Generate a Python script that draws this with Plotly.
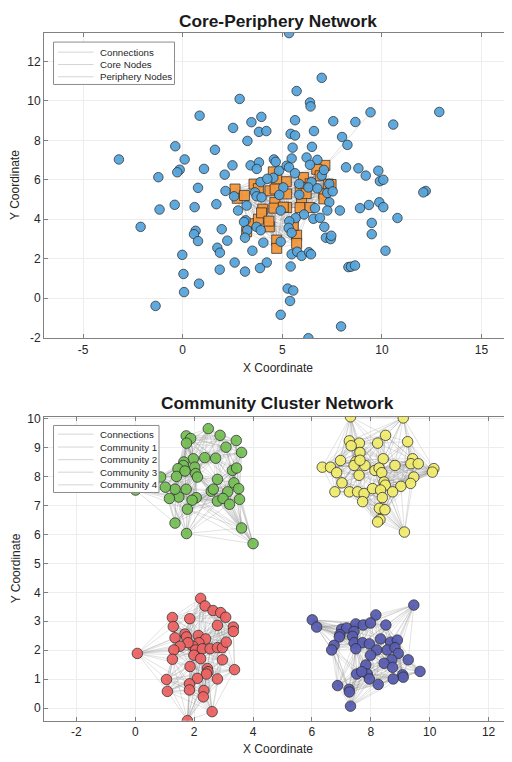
import math
import plotly.graph_objects as go

# ---------------- data ----------------
core_x = [7.14, 6.73, 6.06, 6.90, 7.31, 7.09, 7.09, 6.40, 5.90, 5.20, 4.55, 4.72, 3.58, 3.80, 4.38, 2.63, 2.74, 3.10, 5.22, 5.97,
          6.20, 4.02, 4.63, 5.22, 5.89, 6.39, 3.46, 4.35, 3.80, 3.21, 4.72, 4.72, 5.72, 5.72, 5.55, 4.58, 3.96, 4.33, 4.64, 5.05, 7.45]
core_y = [6.73, 6.53, 6.11, 6.20, 5.78, 5.28, 5.03, 5.80, 5.60, 5.90, 6.40, 6.03, 5.78, 5.55, 5.44, 5.53, 5.06, 5.20, 5.28, 4.94,
          5.30, 4.51, 4.84, 4.59, 4.59, 4.59, 3.77, 3.61, 4.00, 3.36, 2.94, 2.52, 3.19, 2.77, 3.69, 4.56, 4.32, 3.90, 5.53, 4.61, 5.76]

peri_x = [2.86, 0.85, 3.45, 3.95, 2.53, 3.83, 4.20, 3.25, -0.37, 1.62, -3.20, 0.10, 4.58, 4.67, 2.50, 3.41, 3.83, 3.72, 4.84, -0.15,
          -0.27, 1.07, 2.11, -1.22, 4.55, 3.91, 4.25, 0.77, 2.15, 5.34, 6.98, 5.72, 6.39, 6.42, 9.43, 12.88, 5.64, 7.56, 8.67, 10.57,
          5.42, 5.64, 6.59, 8.00, 8.27, 5.52, 6.49, 5.47, 6.22, 6.76, 5.22, 5.34, 6.39, 8.20, 8.82, 9.82, 9.19, 9.90, 10.07, 5.64,
          6.98, 7.09, 7.36, 5.85, 6.47, 12.20, 12.08, 2.58, -1.16, -0.40, 0.60, 1.69, 3.21, 2.78, -2.11, 0.65, 0.57, 0.77, 1.96, 2.24,
          3.16, 3.08, 3.24, 3.71, 3.92, 3.13, 4.05, 4.92, 4.92, -0.02, 1.74, 1.87, 3.50, 2.61, 4.22, 3.88, 1.86, 3.13, 0.04, 0.82,
          0.07, -1.36, 4.92, 5.05, 6.31, 6.76, 4.85, 5.85, 7.26, 7.53, 7.36, 6.09, 5.67, 6.64, 6.56, 6.89, 7.26, 7.89, 8.90, 9.35,
          9.87, 10.07, 10.78, 5.35, 5.32, 5.47, 7.11, 7.19, 7.43, 7.46, 9.49, 9.49, 10.18, 5.47, 5.75, 5.97, 6.34, 6.44, 5.42, 8.32,
          8.45, 8.65, 5.27, 5.55, 5.39, 7.95, 6.31, 3.63, 3.71, 3.96]
peri_y = [10.10, 9.25, 8.92, 9.19, 8.63, 8.43, 8.47, 7.97, 7.70, 7.52, 7.03, 7.03, 7.03, 6.91, 6.73, 6.73, 6.88, 6.55, 6.46, 6.51,
          6.38, 6.55, 6.26, 6.13, 6.10, 5.88, 6.05, 5.59, 5.43, 13.44, 11.17, 10.50, 9.92, 9.72, 9.42, 9.44, 9.02, 8.97, 8.93, 8.80,
          8.33, 8.25, 8.47, 8.17, 7.77, 7.63, 7.67, 7.08, 7.13, 7.01, 6.71, 6.63, 6.76, 6.63, 6.58, 6.46, 6.21, 5.93, 6.00, 6.33,
          6.21, 6.50, 5.79, 5.79, 5.88, 5.43, 5.36, 5.16, 4.49, 4.73, 4.61, 4.76, 4.69, 4.44, 3.61, 3.41, 3.24, 2.89, 3.49, 2.91,
          3.94, 3.86, 3.44, 3.61, 3.44, 3.06, 2.81, 4.44, 2.86, 2.19, 2.55, 2.30, 2.40, 1.80, 1.80, 1.52, 1.44, 1.34, 1.22, 0.73,
          0.30, -0.40, -0.85, 5.61, 5.61, 5.56, 5.23, 5.24, 5.33, 5.41, 4.86, 4.24, 4.06, 4.56, 4.02, 4.07, 4.44, 4.44, 4.56, 4.72,
          4.86, 4.61, 4.06, 3.89, 3.56, 3.31, 3.61, 3.06, 2.99, 3.16, 3.81, 3.24, 2.40, 2.22, 2.35, 2.14, 2.32, 2.22, 1.60, 1.57,
          1.59, 1.65, 0.48, 0.38, -0.15, -1.44, -2.04, 5.36, 5.16, 5.11]

# periphery -> core links (periphery index, core index)
peri_links = [(34, 0), (44, 0), (13, 10), (28, 15), (63, 4)]

c1_x = [2.48, 1.73, 1.88, 1.74, 2.88, 3.43, 3.08, 3.61, 2.36, 2.73, 1.97, 1.65, 1.63, 1.45, 2.02, 2.05, 2.11, 1.40, 0.86, 3.30,
        3.44, 2.79, 3.35, 3.51, 3.14, 3.54, 2.79, 2.98, 3.20, 2.58, 2.65, 2.07, 1.93, 1.48, 1.16, 1.35, 1.02, 1.73, 1.77, 1.35,
        1.74, 3.61, 4.00, 0.01, 1.69]
c1_y = [9.65, 9.40, 9.31, 9.15, 9.42, 9.24, 9.01, 8.83, 8.65, 8.63, 8.61, 8.50, 8.38, 8.27, 8.32, 8.10, 7.98, 8.00, 7.98, 8.21,
        8.29, 7.90, 7.78, 7.58, 7.47, 7.21, 7.15, 7.24, 7.04, 7.49, 7.56, 7.27, 7.18, 7.29, 7.24, 7.56, 7.63, 7.56, 6.87, 6.39,
        6.03, 6.22, 5.68, 7.53, 8.19]

c2_x = [7.31, 9.10, 8.50, 7.27, 7.61, 7.33, 8.23, 9.25, 7.63, 6.97, 7.49, 7.43, 7.80, 8.42, 8.82, 9.42, 9.36, 9.61, 6.35, 6.63,
        6.84, 7.60, 8.14, 8.28, 8.37, 8.45, 8.49, 9.46, 9.35, 9.02, 10.14, 10.09, 7.02, 6.78, 7.27, 7.55, 7.77, 8.06, 8.33, 8.74,
        7.72, 8.39, 8.29, 8.48, 8.31, 8.23, 9.14, 7.63]
c2_y = [10.06, 10.02, 9.42, 9.23, 9.15, 9.06, 9.15, 9.20, 8.83, 8.55, 8.51, 8.38, 8.38, 8.61, 8.38, 8.61, 8.44, 8.44, 8.32, 8.32,
        8.13, 8.04, 8.21, 8.29, 8.13, 7.81, 7.70, 7.98, 7.76, 7.66, 8.27, 8.15, 7.78, 7.47, 7.47, 7.47, 7.41, 7.58, 7.53, 7.47,
        7.13, 7.27, 6.90, 6.85, 6.51, 6.43, 6.08, 8.56]

c3_x = [2.22, 2.37, 2.64, 2.90, 3.07, 1.26, 1.85, 1.29, 2.79, 3.33, 3.33, 1.35, 1.69, 1.74, 2.14, 2.39, 2.16, 1.96, 1.79, 1.52,
        1.31, 2.05, 2.28, 2.54, 2.79, 2.96, 3.09, 1.99, 2.22, 1.26, 2.96, 0.07, 1.86, 2.45, 2.47, 2.42, 3.37, 2.11, 2.79, 1.06,
        1.84, 1.84, 1.09, 2.33, 2.31, 2.61, 1.77]
c3_y = [3.79, 3.53, 3.37, 3.30, 3.14, 3.13, 3.09, 2.82, 2.86, 2.80, 2.65, 2.43, 2.56, 2.46, 2.51, 2.39, 2.26, 2.14, 2.26, 2.14,
        2.01, 2.01, 2.05, 2.05, 2.09, 2.09, 2.28, 1.83, 1.71, 1.69, 1.67, 1.89, 1.44, 1.37, 1.26, 1.18, 1.33, 1.03, 1.01, 0.99,
        0.84, 0.63, 0.58, 0.61, 0.39, -0.12, -0.43]

c4_x = [9.46, 8.17, 6.01, 6.16, 7.01, 7.18, 7.49, 7.74, 7.99, 8.51, 7.43, 6.95, 6.93, 7.38, 7.43, 7.72, 7.95, 8.33, 8.67, 8.90,
        6.75, 6.67, 7.49, 8.20, 8.56, 8.82, 8.93, 7.99, 8.71, 9.27, 8.45, 8.74, 7.83, 7.52, 7.88, 7.95, 7.69, 9.67, 9.08, 9.10,
        8.76, 8.25, 6.87, 7.26, 7.27, 7.31]
c4_y = [3.56, 3.22, 3.05, 2.80, 2.73, 2.77, 2.91, 2.87, 2.94, 2.87, 2.65, 2.54, 2.46, 2.48, 2.26, 2.26, 2.22, 2.39, 2.28, 2.35,
        2.17, 2.01, 2.05, 2.01, 2.01, 2.09, 1.89, 1.83, 1.67, 1.67, 1.55, 1.41, 1.49, 1.18, 1.18, 1.01, 1.26, 1.27, 1.15, 1.07,
        1.01, 0.82, 0.78, 0.65, 0.56, 0.07]

top_xticks = [-5, 0, 5, 10, 15]
top_xtext = ["-5", "0", "5", "10", "15"]
top_yticks = [-2, 0, 2, 4, 6, 8, 10, 12]
top_ytext = ["-2", "0", "2", "4", "6", "8", "10", "12"]
bot_xticks = [-2, 0, 2, 4, 6, 8, 10, 12]
bot_xtext = ["-2", "0", "2", "4", "6", "8", "10", "12"]
bot_yticks = list(range(0, 11))
bot_ytext = [str(v) for v in bot_yticks]

top_legend = ["Connections", "Core Nodes", "Periphery Nodes"]
bot_legend = ["Connections", "Community 1", "Community 2", "Community 3", "Community 4"]

# ---------------- styles ----------------
W, H = 512, 762
OFF = 8  # page body margin of the written html
FONT = "Liberation Sans, Arial, Helvetica, sans-serif"
TXT = "#262626"
AXC = "#808080"
GRID = "#ededed"
EDGE = "rgba(130,130,130,0.34)"
BLUE = "rgb(86,165,220)"
ORANGE = "rgb(243,151,60)"
GREEN = "rgb(118,191,86)"
YELLOW = "rgb(241,236,110)"
RED = "rgb(236,99,99)"
PURPLE = "rgb(89,93,178)"
OUTLINE = "rgb(45,45,45)"

fig = go.Figure()


def px(x):
    return (x - OFF) / W


def py(y):
    return 1 - (y - OFF) / H


def knn_edges(xs, ys, k):
    n = len(xs)
    pairs = set()
    for i in range(n):
        d = sorted(((xs[j] - xs[i]) ** 2 + (ys[j] - ys[i]) ** 2, j) for j in range(n) if j != i)
        for _, j in d[:k]:
            pairs.add((min(i, j), max(i, j)))
    return sorted(pairs)


def add_edges(x1, y1, x2, y2, pairs, xa, ya):
    groups = {}
    for a, b in pairs:
        groups.setdefault(a, []).append(b)
    for a, bs in groups.items():
        ex, ey = [], []
        for b in bs:
            ex += [x1[a], x2[b], None]
            ey += [y1[a], y2[b], None]
        fig.add_trace(go.Scatter(x=ex, y=ey, mode="lines", xaxis=xa, yaxis=ya,
                                 line=dict(color=EDGE, width=0.7), hoverinfo="skip", showlegend=False))


# top: core-periphery
add_edges(core_x, core_y, core_x, core_y, knn_edges(core_x, core_y, 16), "x", "y")
add_edges(peri_x, peri_y, core_x, core_y, peri_links, "x", "y")
fig.add_trace(go.Scatter(x=core_x, y=core_y, mode="markers", xaxis="x", yaxis="y", name="Core Nodes",
                         marker=dict(symbol="square", size=10, color=ORANGE, opacity=0.95,
                                     line=dict(color=OUTLINE, width=0.8)), showlegend=False))
fig.add_trace(go.Scatter(x=peri_x, y=peri_y, mode="markers", xaxis="x", yaxis="y", name="Periphery Nodes",
                         marker=dict(symbol="circle", size=9.5, color=BLUE, opacity=0.95,
                                     line=dict(color=OUTLINE, width=0.8)), showlegend=False))

# bottom: communities
comms = [(c1_x, c1_y, GREEN), (c2_x, c2_y, YELLOW), (c3_x, c3_y, RED), (c4_x, c4_y, PURPLE)]
for cx, cy, _ in comms:
    add_edges(cx, cy, cx, cy, knn_edges(cx, cy, 16), "x2", "y2")
for i, (cx, cy, col) in enumerate(comms):
    fig.add_trace(go.Scatter(x=cx, y=cy, mode="markers", xaxis="x2", yaxis="y2", name=f"Community {i+1}",
                             marker=dict(symbol="circle", size=10.5, color=col, opacity=0.95,
                                         line=dict(color=OUTLINE, width=0.8)), showlegend=False))

axis_common = dict(showline=True, linecolor=AXC, linewidth=1, mirror="ticks", ticks="inside", ticklen=4,
                   tickcolor=AXC, showgrid=True, gridcolor=GRID, gridwidth=1, zeroline=False,
                   tickfont=dict(family=FONT, size=12, color=TXT), tickmode="array")

fig.update_layout(
    width=W, height=H, margin=dict(l=0, r=0, t=0, b=0),
    paper_bgcolor="white", plot_bgcolor="white", showlegend=False,
    xaxis=dict(domain=[px(44), px(511)], range=[-6.96, 16.48], anchor="y",
               tickvals=top_xticks, ticktext=top_xtext, **axis_common),
    yaxis=dict(domain=[py(338), py(28)], range=[-2.04, 13.46], anchor="x",
               tickvals=top_yticks, ticktext=top_ytext, **axis_common),
    xaxis2=dict(domain=[px(44), px(511)], range=[-3.10, 12.76], anchor="y2",
                tickvals=bot_xticks, ticktext=bot_xtext, **axis_common),
    yaxis2=dict(domain=[py(726), py(417.7)], range=[-0.43, 10.06], anchor="x2",
                tickvals=bot_yticks, ticktext=bot_ytext, **axis_common),
)

ann = []
shapes = []


def text(x, y, s, size, bold=False, angle=0, xanchor="center"):
    ann.append(dict(x=px(x), y=py(y), xref="paper", yref="paper", text=(f"<b>{s}</b>" if bold else s),
                    showarrow=False, xanchor=xanchor, yanchor="middle", textangle=angle,
                    font=dict(family=FONT, size=size, color="#1a1a1a" if bold else TXT)))


text(277.5, 16.5, "Core-Periphery Network", 17.3, bold=True)
text(277.5, 404, "Community Cluster Network", 17.3, bold=True)
text(277.5, 368, "X Coordinate", 12)
text(277.5, 755, "X Coordinate", 12)
text(15.5, 183, "Y Coordinate", 12, angle=-90)
text(15.5, 572, "Y Coordinate", 12, angle=-90)


def legend(x0, y0, x1, y1, rows, labels):
    shapes.append(dict(type="rect", xref="paper", yref="paper", x0=px(x0), x1=px(x1), y0=py(y0), y1=py(y1),
                       fillcolor="white", line=dict(color="#8c8c8c", width=1), layer="above"))
    for r, lab in zip(rows, labels):
        shapes.append(dict(type="line", xref="paper", yref="paper", x0=px(x0 + 4.5), x1=px(x0 + 40),
                           y0=py(r), y1=py(r), line=dict(color="#d4d4d4", width=1), layer="above"))
        text(x0 + 44.5, r, lab, 9.7, xanchor="left")


legend(53.5, 37.5, 174.5, 80.5, [47.7, 60.3, 72.7], top_legend)
legend(53.5, 426.5, 159, 494.5, [435.3, 448.4, 461.2, 473.9, 486.8], bot_legend)

fig.update_layout(annotations=ann, shapes=shapes)
fig.write_html("out.html", config={"displayModeBar": False})
